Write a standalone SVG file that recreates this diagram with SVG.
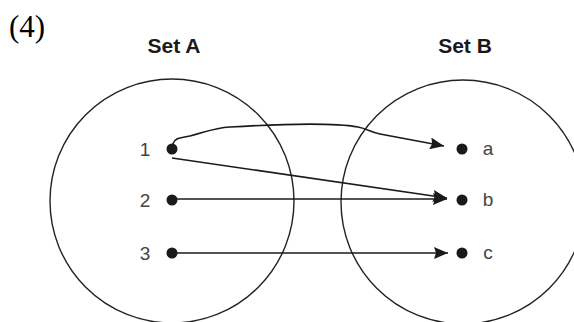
<svg xmlns="http://www.w3.org/2000/svg" width="574" height="322" viewBox="0 0 574 322">
<style>
.circ{fill:none;stroke:#222;stroke-width:1.4}
.dot{fill:#1a1a1a}
.lbl{font-family:"Liberation Sans",Arial,sans-serif;font-size:19px;fill:#444;text-anchor:middle}
.title{font-family:"Liberation Sans",Arial,sans-serif;font-size:21px;font-weight:bold;fill:#1a1a1a;text-anchor:middle}
.conn{fill:none;stroke:#1a1a1a;stroke-width:1.6;marker-end:url(#arr)}
</style>
<defs>
<marker id="arr" markerUnits="userSpaceOnUse" markerWidth="15" markerHeight="12" refX="14" refY="6" orient="auto">
<path d="M0,0 L14,6 L0,12 L2,6 z" fill="#1a1a1a"/>
</marker>
</defs>
<rect width="574" height="322" fill="#fff"/>
<text x="9" y="37" font-family="Liberation Serif,Times New Roman,serif" font-size="31" fill="#000">(4)</text>
<g id="setA">
<circle class="circ" cx="172" cy="201" r="122"/>
<text class="title" x="174" y="53">Set A</text>
</g>
<g id="setB">
<circle class="circ" cx="463" cy="202" r="122"/>
<text class="title" x="465" y="53">Set B</text>
</g>
<g id="n1"><circle class="dot" cx="172" cy="149" r="5.5"/><text class="lbl" x="145" y="156">1</text></g>
<g id="n2"><circle class="dot" cx="172" cy="200" r="5.5"/><text class="lbl" x="145" y="207">2</text></g>
<g id="n3"><circle class="dot" cx="172" cy="253" r="5.5"/><text class="lbl" x="145" y="260">3</text></g>
<g id="na"><circle class="dot" cx="462" cy="149" r="5.5"/><text class="lbl" x="488" y="155">a</text></g>
<g id="nb"><circle class="dot" cx="462" cy="200" r="5.5"/><text class="lbl" x="488" y="206">b</text></g>
<g id="nc"><circle class="dot" cx="462" cy="253" r="5.5"/><text class="lbl" x="488" y="259">c</text></g>
<g id="connectors">
<path class="conn" d="M172,148 Q173,139 180,138 C200,135 210,128 230,127 C280,124 330,122 358,127 C368,129 370,132 380,134 L444,146"/>
<path class="conn" d="M172,158 L447,198"/>
<path class="conn" d="M172,199 L447,199"/>
<path class="conn" d="M172,253 L448,253"/>
</g>
</svg>
